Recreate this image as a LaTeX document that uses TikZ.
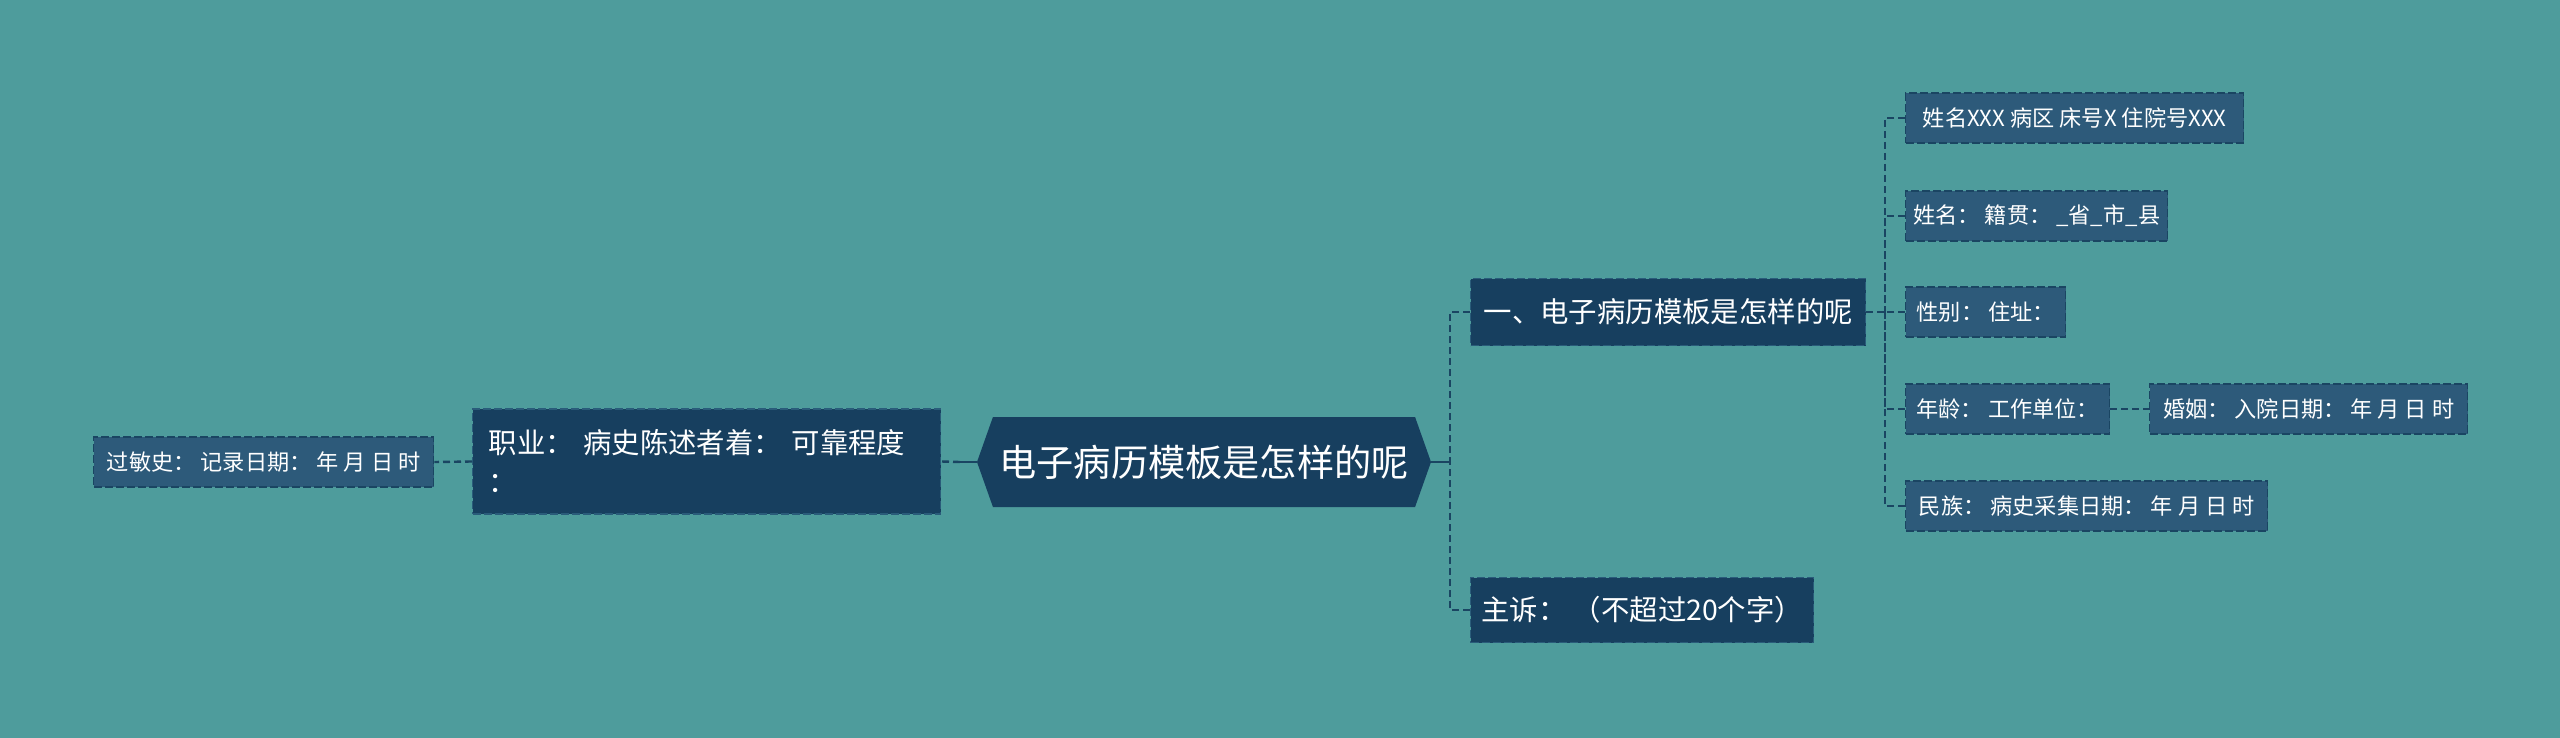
\documentclass[tikz,border=0pt]{standalone}
\usepackage{fontspec}
\setmainfont{Noto Sans CJK SC}
\usetikzlibrary{shapes.symbols}
\definecolor{emrbg}{HTML}{4E9C9C}
\definecolor{emrnavy}{HTML}{173F5F}
\definecolor{emrsteel}{HTML}{2D5A7A}
\definecolor{emrline}{HTML}{1A4562}
\definecolor{emredge}{HTML}{2A5C7A}
\tikzstyle{emrroot}=[signal,signal to=east and west,signal pointer angle=141,fill=emrnavy,text=white,
  minimum width=227pt,minimum height=45pt,inner sep=0pt,font=\fontsize{18.6}{22}\selectfont]
\tikzstyle{emrtopic}=[draw=emredge,line width=0.7pt,dash pattern=on 4pt off 1.5pt,fill=emrnavy,text=white,
  anchor=west,align=left,inner xsep=2pt,inner ysep=0pt,font=\fontsize{14.2}{19.5}\selectfont]
\tikzstyle{emrleaf}=[draw=emrline,line width=0.7pt,dash pattern=on 4pt off 1.5pt,fill=emrsteel,text=white,
  anchor=west,align=left,inner xsep=2pt,inner ysep=0pt,minimum height=25pt,font=\fontsize{11.1}{13}\selectfont]
\tikzstyle{emrlink}=[draw=emrline,line width=1.2pt,dash pattern=on 3.5pt off 2pt]
\tikzstyle{emrstem}=[draw=emrline,line width=1.2pt]

\begin{document}
\begin{tikzpicture}[x=0.5pt,y=-0.5pt]
    \fill[emrbg] (0,0) rectangle (2560,738);
    \useasboundingbox (0,0) rectangle (2560,738);

    \node[emrroot] (root) at (1204,462) {电子病历模板是怎样的呢};

    \node[emrtopic,minimum width=197.5pt,minimum height=33.5pt] (intro) at (1470,312) {一、电子病历模板是怎样的呢};
    \node[emrtopic,minimum width=171.5pt,minimum height=32.5pt] (chief) at (1470,610) {主诉： （不超过20个字）};
    \node[emrtopic,inner xsep=8pt,text width=218pt,minimum height=52.5pt] (job) at (472,461.5) {职业： 病史陈述者着： 可靠程度\\：};
    \node[emrleaf,minimum width=170pt] (allergy) at (93,462) {过敏史： 记录日期： 年 月 日 时};

    \node[emrleaf,minimum width=169pt] (ward) at (1905,118) {姓名XXX 病区 床号X 住院号XXX};
    \node[emrleaf,minimum width=131pt] (origin) at (1905,216) {姓名： 籍贯： \_省\_市\_县};
    \node[emrleaf,minimum width=80pt] (sex) at (1905,312) {性别： 住址：};
    \node[emrleaf,minimum width=102pt] (age) at (1905,409) {年龄： 工作单位：};
    \node[emrleaf,minimum width=159pt] (marry) at (2149,409) {婚姻： 入院日期： 年 月 日 时};
    \node[emrleaf,minimum width=181pt] (nation) at (1905,506) {民族： 病史采集日期： 年 月 日 时};

    \coordinate (jright) at (1450,462);
    \coordinate (jleft) at (960,462);
    \coordinate (jintro) at (1885,312);

    \draw[emrstem] (root.east) -- (jright);
    \draw[emrlink] (intro.west) -| (jright);
    \draw[emrlink] (chief.west) -| (jright);
    \draw[emrstem] (root.west) -- (jleft);
    \draw[emrlink] (jleft) -- (job.east);
    \draw[emrlink] (job.west) -- (allergy.east);

    \draw[emrlink] (intro.east) -- (jintro);
    \foreach \leaf in {ward,origin,sex,age,nation}
      \draw[emrlink] (\leaf.west) -| (jintro);
    \draw[emrlink] (age.east) -- (marry.west);
\end{tikzpicture}
\end{document}
